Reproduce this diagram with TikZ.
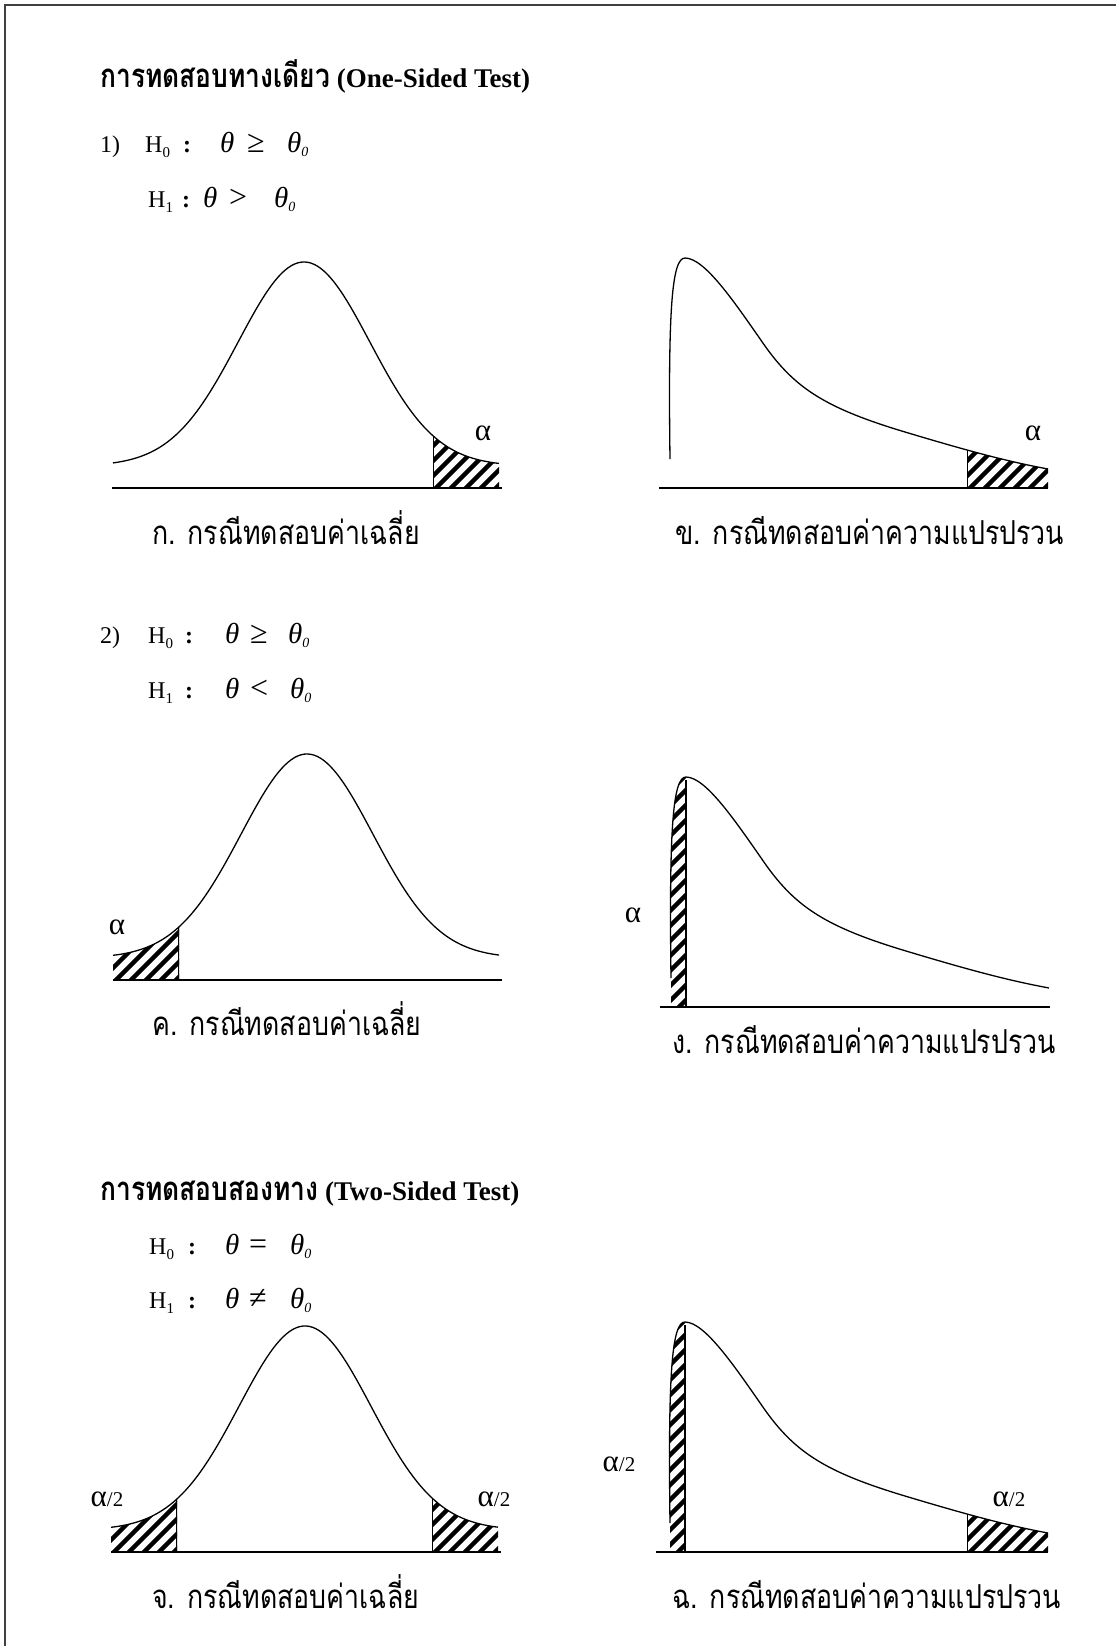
\documentclass[tikz,border=0pt]{standalone}
\usepackage{fontspec}
\setmainfont{Liberation Serif}
\newfontfamily\thaifont[Script=Thai, FakeStretch=0.81]{Loma}
\newfontfamily\thaititle[Script=Thai, FakeStretch=0.80]{Loma}
\newcommand\hsub[1]{\raisebox{-5pt}{\fontsize{15}{15}\selectfont #1}}
\newcommand\thz{{\itshape θ}\raisebox{-4pt}{\fontsize{14}{14}\selectfont\itshape 0}}
\newcommand\gauss[2]{plot[domain=#1:#2, samples=120, variable=\t] (\t,{-22-204*exp(-0.5*(\t/66)^2)})}
\newcommand\skewcurve{(-15,201) .. controls (-17,50) and (-13,0) .. (0,0) .. controls (20,0) and (50,45) .. (80,88) .. controls (110,130) and (140,150) .. (220,174) .. controls (280,192) and (320,203) .. (363,211)}
\newcommand\hatchfill[2]{\foreach \k in {-22,...,14} \draw[hatchline] ({#1+15*\k},#2+3) -- ++(262,-262);}
\tikzset{
  curve/.style={line width=1.3pt, line join=round},
  axisline/.style={line width=1.3pt},
  hatchline/.style={line width=4.5pt, black},
  edge/.style={line width=1.2pt},
  frameline/.style={line width=2pt, black!75},
  hyp/.style={inner sep=0pt, anchor=base west, font=\fontsize{24}{26}\selectfont},
  thx/.style={inner sep=0pt, anchor=base west, font=\fontsize{29}{32}\selectfont},
  rel/.style={inner sep=0pt, anchor=base west, font=\fontsize{32}{34}\selectfont},
  ttl/.style={inner sep=0pt, anchor=base west, font=\bfseries\fontsize{27}{30}\selectfont},
  capt/.style={inner sep=0pt, anchor=base west, font=\thaifont\fontsize{33}{36}\selectfont},
  alab/.style={inner sep=0pt, font=\fontsize{31}{33}\selectfont},
}
\begin{document}
\begin{tikzpicture}[x=1pt,y=-1pt]
\useasboundingbox (0,0) rectangle (1116,1646);
\fill[white] (0,0) rectangle (1116,1646);
\draw[frameline] (5,1646) -- (5,5) -- (1116,5);

% ---------- titles and hypotheses ----------
\node[ttl] (title1) at (100,88) {{\thaititle\fontsize{33}{36}\selectfont การทดสอบทางเดียว} (One-Sided Test)};
\node[hyp] (g1n) at (100,152) {1)};
\node[hyp] (g1h0) at (145,152) {H\hsub{0}};
\node[hyp] (g1c0) at (183,152) {\textbf{:}};
\node[thx] (g1t0) at (220,152) {\itshape θ};
\node[rel] (g1r0) at (247,152) {≥};
\node[thx] (g1z0) at (287,152) {\thz};
\node[hyp] (g1h1) at (148,207) {H\hsub{1}};
\node[hyp] (g1c1) at (182,207) {\textbf{:}};
\node[thx] (g1t1) at (203,207) {\itshape θ};
\node[rel] (g1r1) at (229,207) {>};
\node[thx] (g1z1) at (274,207) {\thz};

\node[hyp] (g2n) at (100,643) {2)};
\node[hyp] (g2h0) at (148,643) {H\hsub{0}};
\node[hyp] (g2c0) at (185,643) {\textbf{:}};
\node[thx] (g2t0) at (225,643) {\itshape θ};
\node[rel] (g2r0) at (250,643) {≥};
\node[thx] (g2z0) at (288,643) {\thz};
\node[hyp] (g2h1) at (148,698) {H\hsub{1}};
\node[hyp] (g2c1) at (185,698) {\textbf{:}};
\node[thx] (g2t1) at (225,698) {\itshape θ};
\node[rel] (g2r1) at (250,698) {<};
\node[thx] (g2z1) at (290,698) {\thz};

\node[ttl] (title2) at (100,1200) {{\thaititle\fontsize{33}{36}\selectfont การทดสอบสองทาง} (Two-Sided Test)};
\node[hyp] (g3h0) at (149,1254) {H\hsub{0}};
\node[hyp] (g3c0) at (188,1254) {\textbf{:}};
\node[thx] (g3t0) at (225,1254) {\itshape θ};
\node[rel] (g3r0) at (249,1254) {=};
\node[thx] (g3z0) at (290,1254) {\thz};
\node[hyp] (g3h1) at (149,1308) {H\hsub{1}};
\node[hyp] (g3c1) at (188,1308) {\textbf{:}};
\node[thx] (g3t1) at (225,1308) {\itshape θ};
\node[rel] (g3r1) at (249,1308) {≠};
\node[thx] (g3z1) at (290,1308) {\thz};

% ---------- normal 1 (right tail) ----------
\begin{scope}[shift={(304,488)}]
  \begin{scope}
    \clip \gauss{129}{195} -- (195,0) -- (129,0) -- cycle;
    \hatchfill{129}{0}
    \draw[edge] (129,0) -- (129,-120);
  \end{scope}
  \draw[curve] \gauss{-191}{195};
  \draw[axisline] (-192,0) -- (198,0);
\end{scope}
\node[alab] (a1) at (483,433) {α};

% ---------- skewed 1 (right tail) ----------
\begin{scope}[shift={(685,258)}]
  \begin{scope}
    \clip \skewcurve -- (363,230) -- (-15,230) -- cycle;
    \clip (282,-10) rectangle (370,240);
    \hatchfill{282}{230}
    \draw[edge] (282,230) -- (282,0);
  \end{scope}
  \draw[curve] \skewcurve;
  \draw[axisline] (-26,230) -- (363,230);
\end{scope}
\node[alab] (b1) at (1033,433) {α};

\node[capt] (capA) at (152,544) {ก. กรณีทดสอบค่าเฉลี่ย};
\node[capt] (capB) at (675,544) {ข. กรณีทดสอบค่าความแปรปรวน};

% ---------- normal 2 (left tail) ----------
\begin{scope}[shift={(307,980)}]
  \begin{scope}
    \clip \gauss{-194}{-128} -- (-128,0) -- (-194,0) -- cycle;
    \hatchfill{-194}{0}
    \draw[edge] (-128,0) -- (-128,-120);
  \end{scope}
  \draw[curve] \gauss{-194}{192};
  \draw[axisline] (-194,0) -- (195,0);
\end{scope}
\node[alab] (a2) at (117,927) {α};

% ---------- skewed 2 (left tail) ----------
\begin{scope}[shift={(686,777)}]
  \begin{scope}
    \clip \skewcurve -- (363,230) -- (-15,230) -- cycle;
    \clip (-25,-5) rectangle (0,232);
    \hatchfill{-25}{230}
  \end{scope}
  \draw[edge] (0,230) -- (0,3);
  \draw[curve] \skewcurve;
  \draw[axisline] (-26,230) -- (364,230);
\end{scope}
\node[alab] (b2) at (633,915) {α};

\node[capt] (capC) at (152,1035) {ค. กรณีทดสอบค่าเฉลี่ย};
\node[capt] (capD) at (672,1053) {ง. กรณีทดสอบค่าความแปรปรวน};

% ---------- normal 3 (two tails) ----------
\begin{scope}[shift={(305,1552)}]
  \begin{scope}
    \clip \gauss{-194}{-128} -- (-128,0) -- (-194,0) -- cycle;
    \hatchfill{-194}{0}
    \draw[edge] (-128,0) -- (-128,-120);
  \end{scope}
  \begin{scope}
    \clip \gauss{127}{193} -- (193,0) -- (127,0) -- cycle;
    \hatchfill{127}{0}
    \draw[edge] (127,0) -- (127,-120);
  \end{scope}
  \draw[curve] \gauss{-194}{193};
  \draw[axisline] (-194,0) -- (196,0);
\end{scope}
\node[alab] (a3l) at (107,1499) {α{\fontsize{21}{24}\selectfont /2}};
\node[alab] (a3r) at (494,1499) {α{\fontsize{21}{24}\selectfont /2}};

% ---------- skewed 3 (two tails) ----------
\begin{scope}[shift={(685,1322)}]
  \begin{scope}
    \clip \skewcurve -- (363,230) -- (-15,230) -- cycle;
    \clip (-25,-5) rectangle (0,232);
    \hatchfill{-25}{230}
  \end{scope}
  \begin{scope}
    \clip \skewcurve -- (363,230) -- (-15,230) -- cycle;
    \clip (282,-10) rectangle (370,240);
    \hatchfill{282}{230}
    \draw[edge] (282,230) -- (282,0);
  \end{scope}
  \draw[edge] (0,230) -- (0,3);
  \draw[curve] \skewcurve;
  \draw[axisline] (-29,230) -- (363,230);
\end{scope}
\node[alab] (b3l) at (619,1464) {α{\fontsize{21}{24}\selectfont /2}};
\node[alab] (b3r) at (1009,1499) {α{\fontsize{21}{24}\selectfont /2}};

\node[capt] (capE) at (152,1608) {จ. กรณีทดสอบค่าเฉลี่ย};
\node[capt] (capF) at (672,1608) {ฉ. กรณีทดสอบค่าความแปรปรวน};
\end{tikzpicture}
\end{document}
